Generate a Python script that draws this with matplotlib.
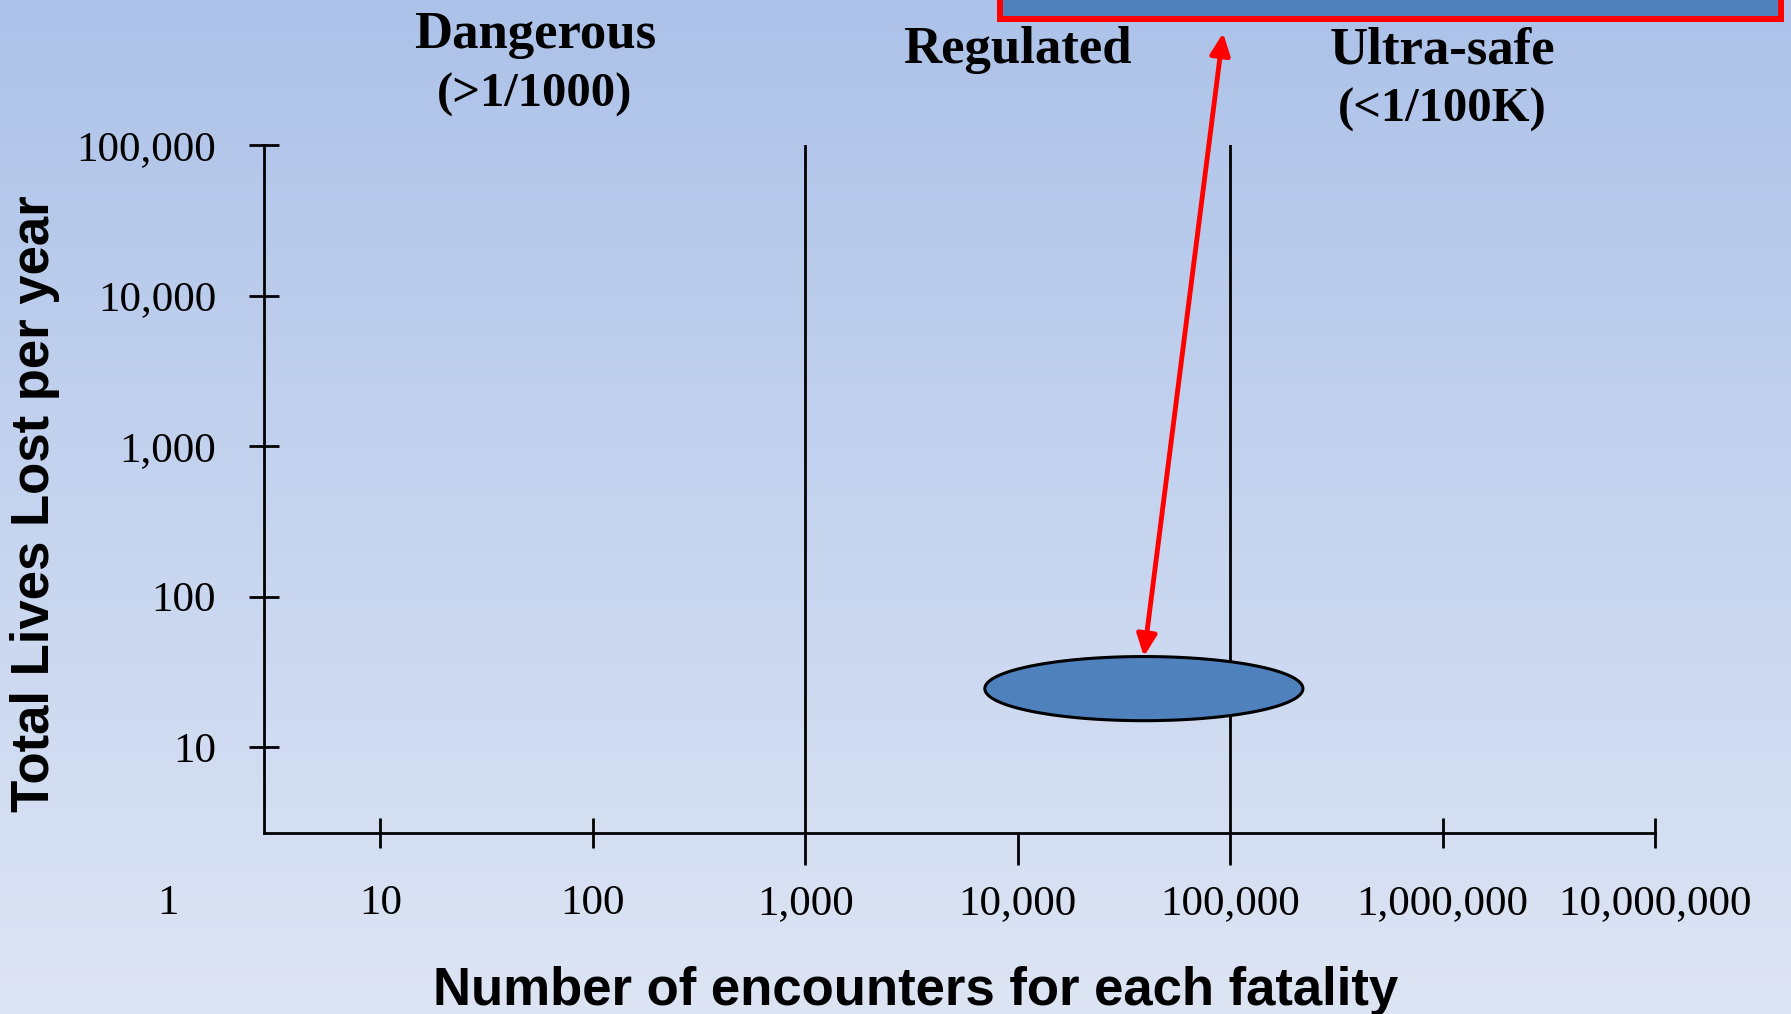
import numpy as np
import matplotlib
matplotlib.use('Agg')
from matplotlib import pyplot as plt
from matplotlib.patches import Rectangle
from matplotlib.ticker import NullLocator
import matplotlib.transforms as mtransforms

# axis values
x_decades = [1, 10, 100, 1000, 10000, 100000, 1000000, 10000000]
y_decades = [10, 100, 1000, 10000, 100000]
zone_bounds = [1000, 100000]          # vertical dividers
zone_names = ["Dangerous", "Regulated", "Ultra-safe"]
zone_notes = ["(>1/1000)", "", "(<1/100K)"]

# the highlighted region (encounters per fatality, lives lost per year)
region_x = [7000, 220000]
region_y = [15, 40]

serif = 'Liberation Serif'
sans = 'Liberation Sans'

fig = plt.figure(figsize=(17.91, 10.14), dpi=100)

# background gradient
bg = fig.add_axes([0, 0, 1, 1], zorder=0)
top = np.array([173, 194, 233]) / 255
bottom = np.array([221, 229, 244]) / 255
t = np.linspace(0, 1, 256)[:, None]
grad = top[None, :] * (1 - t) + bottom[None, :] * t
bg.imshow(grad[:, None, :], aspect='auto', extent=[0, 1, 0, 1])
bg.axis('off')

ax = fig.add_axes([0.1474, 0.1785, 0.7767, 0.6785], zorder=1)
ax.patch.set_alpha(0)
ax.set_xscale('log')
ax.set_yscale('log')
ax.set_xlim(10 ** 0.452, 1e7)
ax.set_ylim(10 ** 0.43, 1e5)

for s in ['top', 'right']:
    ax.spines[s].set_visible(False)
for s in ['left', 'bottom']:
    ax.spines[s].set_linewidth(2)

# ticks: crossing ticks on decades, downward ticks in the regulated zone
ax.set_xticks([v for v in x_decades[1:] if v not in (1000, 10000, 100000)])
ax.set_xticks([1000, 10000, 100000], minor=True)
ax.tick_params(axis='x', which='major', direction='inout', length=21, width=2,
               labelbottom=False)
ax.tick_params(axis='x', which='minor', direction='out', length=23, width=2,
               labelbottom=False)
ax.set_yticks(y_decades, [f"{v:,}" for v in y_decades])
ax.yaxis.set_minor_locator(NullLocator())
ax.tick_params(axis='y', which='major', direction='inout', length=21, width=2,
               pad=24, labelsize=31)
for lab in ax.get_yticklabels():
    lab.set_family(serif)

# x labels, including the "1" that sits left of the axis
xtrans = mtransforms.blended_transform_factory(ax.transData, ax.transAxes)
for v in x_decades:
    ax.text(v, -0.103, f"{v:,}", transform=xtrans, ha='center', va='center',
            fontsize=31, family=serif, clip_on=False)

# zone dividers
for b in zone_bounds:
    ax.axvline(b, color='black', lw=2, zorder=2)

# zone titles
edges = [ax.get_xlim()[0]] + zone_bounds + [ax.get_xlim()[1]]
ftrans = mtransforms.blended_transform_factory(ax.transData, fig.transFigure)
title_base = [48, 63, 63]
for i in range(len(zone_names)):
    xc = np.sqrt(edges[i] * edges[i + 1])
    ax.text(xc, 1 - title_base[i] / 1014, zone_names[i], transform=ftrans,
            ha='center', va='baseline', fontsize=38, fontweight='bold',
            family=serif, clip_on=False)
    if zone_notes[i]:
        ax.text(xc, 1 - (title_base[i] + 59) / 1014, zone_notes[i], transform=ftrans,
                ha='center', va='baseline', fontsize=35, fontweight='bold',
                family=serif, clip_on=False)

# highlighted region as an ellipse in log space
cx = np.mean(np.log10(region_x))
cy = np.mean(np.log10(region_y))
rx = np.diff(np.log10(region_x))[0] / 2
ry = np.diff(np.log10(region_y))[0] / 2
th = np.linspace(0, 2 * np.pi, 400)
ex = 10 ** (cx + rx * np.cos(th))
ey = 10 ** (cy + ry * np.sin(th))
ax.fill(ex, ey, facecolor='#4f81bd', edgecolor='black', lw=2.2, zorder=3)

# callout box at the top (cut off by the slide edge)
fig.add_artist(Rectangle((0.5584, 0.9813), 0.436, 0.1, transform=fig.transFigure,
                         facecolor='#4f81bd', edgecolor='red', lw=4.3, zorder=5))

# arrow between box and region
ax.annotate('', xy=(10 ** cx, 10 ** (cy + ry)), xycoords='data',
            xytext=(0.6829, 0.9675), textcoords='figure fraction',
            arrowprops=dict(arrowstyle='<|-|>,head_length=0.65,head_width=0.3',
                            color='red', lw=3.5, shrinkA=0, shrinkB=0,
                            mutation_scale=20),
            zorder=4)

# axis titles
fig.text(0.0198, 0.503, "Total Lives Lost per year", rotation=90, ha='center',
         va='center', fontsize=38, fontweight='bold', family=sans)
fig.text(0.511, 1 - 1005 / 1014, "Number of encounters for each fatality",
         ha='center', va='baseline', fontsize=38, fontweight='bold', family=sans)

plt.savefig('out.png', dpi=100)
